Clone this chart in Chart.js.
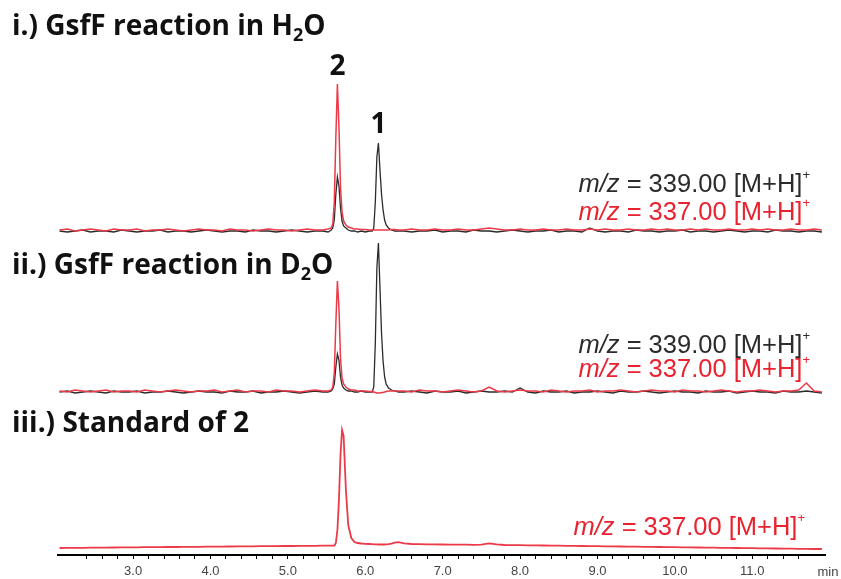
<!DOCTYPE html>
<html>
<head>
<meta charset="utf-8">
<script src="https://cdn.jsdelivr.net/npm/chart.js@4"></script>
<style>
  body { margin: 0; background: #fff; }
  canvas { display: block; }
</style>
</head>
<body>
<canvas id="myChart" width="841" height="579"></canvas>
<script>
// retention time (min)
const times = [
  2.05,2.15,2.25,2.35,2.45,2.55,2.65,2.75,2.85,2.95,
  3.05,3.15,3.25,3.35,3.45,3.55,3.65,3.75,3.85,3.95,
  4.05,4.15,4.25,4.35,4.45,4.55,4.65,4.75,4.85,4.95,
  5.05,5.15,5.25,5.35,5.45,5.52,
  5.56,5.58,5.60,5.62,5.64,5.66,5.68,5.70,5.72,5.75,
  5.78,5.82,5.86,5.90,5.95,6.00,6.05,6.09,6.11,6.13,
  6.15,6.17,6.19,6.21,6.23,6.25,6.27,6.30,6.34,6.38,6.43,
  6.5,6.6,6.7,6.8,6.9,7.0,7.1,7.2,7.3,7.4,
  7.5,7.6,7.7,7.8,7.9,8.0,8.1,8.2,8.3,8.4,
  8.5,8.6,8.7,8.8,8.9,9.0,9.1,9.2,9.3,9.4,
  9.5,9.6,9.7,9.8,9.9,10.0,10.1,10.2,10.3,10.4,
  10.5,10.6,10.7,10.8,10.9,11.0,11.1,11.2,11.3,11.4,
  11.5,11.6,11.7,11.8,11.9
];

// i.) GsfF reaction in H2O
const h2o337 = [
  2,3,1,2,3,2,1,3,2,2,3,1,2,2,3,2,1,2,3,2,2,1,3,2,2,1,2,3,2,2,1,2,3,2,2,3,
  4,8,30,95,148,105,45,20,11,7, 5,4,3,3,2.5,2.5,2,2,2,2, 2,2,2,2,2,2,2,2,2.5,2.5,2,
  2,3,2,2,3,2,2,3,2,2, 3,4,3,2,2,3,2,2,3,2, 2,3,2,2,3,2,3,2,2,3,
  2,2,3,2,3,2,2,3,2,3, 2,2,3,2,2,3,2,3,2,2, 3,2,2,3,2
];
const h2o339 = [
  1,0,1,2,0,1,1,0,2,1,0,1,1,2,0,1,1,0,1,2,1,0,1,1,0,2,1,1,0,1,2,1,0,1,1,0,
  2,4,12,38,55,46,24,11,6,4, 2,1,1,0,1,0,1,1,4,30, 75,89,62,38,22,12,7,4,2,1,1,
  1,0,1,1,2,0,1,1,0,2, 1,1,0,1,2,1,0,1,1,2, 0,1,1,0,4,1,0,1,1,0,
  2,1,1,0,1,1,2,0,1,1, 0,1,2,1,0,1,1,0,2,1, 1,0,1,1,0
];

// ii.) GsfF reaction in D2O
const d2o337 = [
  2,1,3,2,1,2,3,1,2,2,1,3,2,1,2,3,2,1,2,2,3,1,2,3,1,2,2,1,3,2,2,1,2,3,2,2,
  3,6,20,70,112,85,35,15,9,6, 4,3,3,2,2,2,1.5,1.5,1,0.5, 0,0,0,0.5,0.5,1,1.5,2,2,2,2,
  2,1,3,2,2,1,2,3,2,1, 2,6,2,1,2,3,2,2,1,3, 2,1,2,2,3,1,2,2,3,2,
  1,2,3,2,2,1,3,2,2,1, 2,3,2,1,2,2,3,2,1,2, 2,3,10,2,1
];
const d2o339 = [
  1,2,0,1,2,1,0,2,1,1,2,0,1,1,2,1,0,1,2,1,1,0,2,1,1,2,0,1,1,2,1,0,1,2,1,1,
  2,4,9,26,39,33,16,8,5,3, 2,2,1,1,2,1,1,1,6,50, 125,150,105,60,32,16,9,5,3,2,1,
  1,2,1,0,2,1,1,2,0,1, 2,1,1,2,1,5,1,0,2,1, 1,2,0,1,1,2,1,0,2,1,
  1,2,1,0,1,2,1,1,0,2, 1,1,2,0,1,2,1,1,0,2, 1,1,2,1,0
];

// iii.) Standard of 2
const std337 = [
  2.0,2.1,2.2,2.2,2.3,2.4,2.4,2.5,2.6,2.6,2.7,2.8,2.8,2.9,3.0,3.0,3.1,3.2,
  3.2,3.3,3.4,3.4,3.5,3.6,3.6,3.7,3.8,3.8,3.9,4.0,4.0,4.1,4.2,4.2,4.3,4.3,
  4.3,4.3,4.4,7,20,50,95,120,114,60, 25,12,8,7,6.5,6.2,6.0,5.8,5.7,5.6,
  5.6,5.5,5.5,5.5,5.5,5.5,5.6,5.8,6.4,7.4,7.8,
  6.6,6.0,5.8,5.7,5.6,5.5,5.4,5.3,5.3,5.2, 5.4,6.6,5.6,5.0,4.9,4.8,4.7,4.6,4.5,4.4,
  4.3,4.2,4.1,4.0,3.9,3.8,3.7,3.6,3.5,3.4, 3.3,3.2,3.1,3.0,2.9,2.8,2.7,2.6,2.5,2.4,
  2.3,2.2,2.1,2.0,1.9,1.8,1.7,1.6,1.5,1.4, 1.3,1.2,1.1,1.0,1.0
];

const red = '#ec3a48';
const redText = '#e8222e';
const dark = '#2b2b2b';

// vertical offset of each trace panel (same units as y scale)
const offsetI = 323;
const offsetII = 162;
const offsetIII = 5;

function series(values, offset) {
  return times.map((t, i) => ({ x: t, y: offset + values[i] }));
}

function lineSet(label, values, offset, color, width) {
  return {
    label: label,
    data: series(values, offset),
    borderColor: color,
    borderWidth: width,
    pointRadius: 0,
    tension: 0,
    fill: false
  };
}

function drawParts(ctx, parts, x, y, color, alignRight) {
  let total = 0;
  parts.forEach(p => { ctx.font = p.font; total += ctx.measureText(p.text).width; });
  let cx = alignRight ? x - total : x;
  ctx.fillStyle = color;
  ctx.textBaseline = 'alphabetic';
  ctx.textAlign = 'left';
  parts.forEach(p => {
    ctx.font = p.font;
    ctx.fillText(p.text, cx, y + (p.dy || 0));
    cx += ctx.measureText(p.text).width;
  });
}

function mzParts(mass) {
  return [
    { text: 'm/z', font: 'italic 25.5px "Liberation Sans"' },
    { text: ' = ' + mass + ' [M+H]', font: '25.5px "Liberation Sans"' },
    { text: '+', font: '13px "Liberation Sans"', dy: -13 }
  ];
}

const labelsPlugin = {
  id: 'labels',
  afterDraw(chart) {
    const ctx = chart.ctx;
    const xs = chart.scales.x;
    const big = 'bold 28px "Open Sans"';
    const sub = 'bold 18px "Open Sans"';
    ctx.save();
    drawParts(ctx, [
      { text: 'i.) GsfF reaction in H', font: big },
      { text: '2', font: sub, dy: 6 },
      { text: 'O', font: big }
    ], 12, 35, '#111', false);
    drawParts(ctx, [
      { text: 'ii.) GsfF reaction in D', font: big },
      { text: '2', font: sub, dy: 6 },
      { text: 'O', font: big }
    ], 12, 274, '#111', false);
    drawParts(ctx, [{ text: 'iii.) Standard of 2', font: big }], 12, 432, '#111', false);

    // peak numbers
    ctx.font = big;
    ctx.fillStyle = '#111';
    ctx.textAlign = 'center';
    ctx.fillText('2', xs.getPixelForValue(5.64), 75);
    ctx.fillText('1', xs.getPixelForValue(6.17), 133);

    drawParts(ctx, mzParts('339.00'), 810, 192, dark, true);
    drawParts(ctx, mzParts('337.00'), 810, 220, redText, true);
    drawParts(ctx, mzParts('339.00'), 810, 353, dark, true);
    drawParts(ctx, mzParts('337.00'), 810, 377, redText, true);
    drawParts(ctx, mzParts('337.00'), 805, 535, redText, true);

    ctx.font = '13px "Liberation Sans"';
    ctx.fillStyle = '#444';
    ctx.textAlign = 'center';
    ctx.fillText('min', 828, 576);
    ctx.restore();
  }
};

const ctx = document.getElementById('myChart').getContext('2d');
new Chart(ctx, {
  type: 'line',
  data: {
    datasets: [
      lineSet('H2O m/z 337', h2o337, offsetI, red, 1.5),
      lineSet('H2O m/z 339', h2o339, offsetI, dark, 1.3),
      lineSet('D2O m/z 337', d2o337, offsetII, red, 1.5),
      lineSet('D2O m/z 339', d2o339, offsetII, dark, 1.3),
      lineSet('Standard m/z 337', std337, offsetIII, red, 1.8)
    ]
  },
  options: {
    responsive: false,
    animation: false,
    layout: { padding: { left: 58, right: 16, top: 0, bottom: 0 } },
    plugins: {
      legend: { display: false },
      tooltip: { enabled: false }
    },
    scales: {
      x: {
        type: 'linear',
        min: 2.03,
        max: 11.94,
        afterFit: scale => { scale.height = 24; },
        afterBuildTicks: scale => {
          scale.ticks = scale.ticks.filter(t => Math.abs(t.value * 5 - Math.round(t.value * 5)) < 1e-6);
        },
        border: { display: true, color: '#000', width: 2 },
        grid: { drawOnChartArea: false, color: '#000', tickLength: 4, tickWidth: 1 },
        ticks: {
          stepSize: 0.2,
          autoSkip: false,
          maxRotation: 0,
          padding: 5,
          color: '#444',
          font: { family: 'Liberation Sans', size: 13 },
          callback: v => (Math.abs(v - Math.round(v)) < 1e-6 && v >= 3) ? v.toFixed(1) : ''
        }
      },
      y: {
        display: false,
        min: 0,
        max: 555
      }
    }
  },
  plugins: [labelsPlugin]
});
</script>
</body>
</html>
